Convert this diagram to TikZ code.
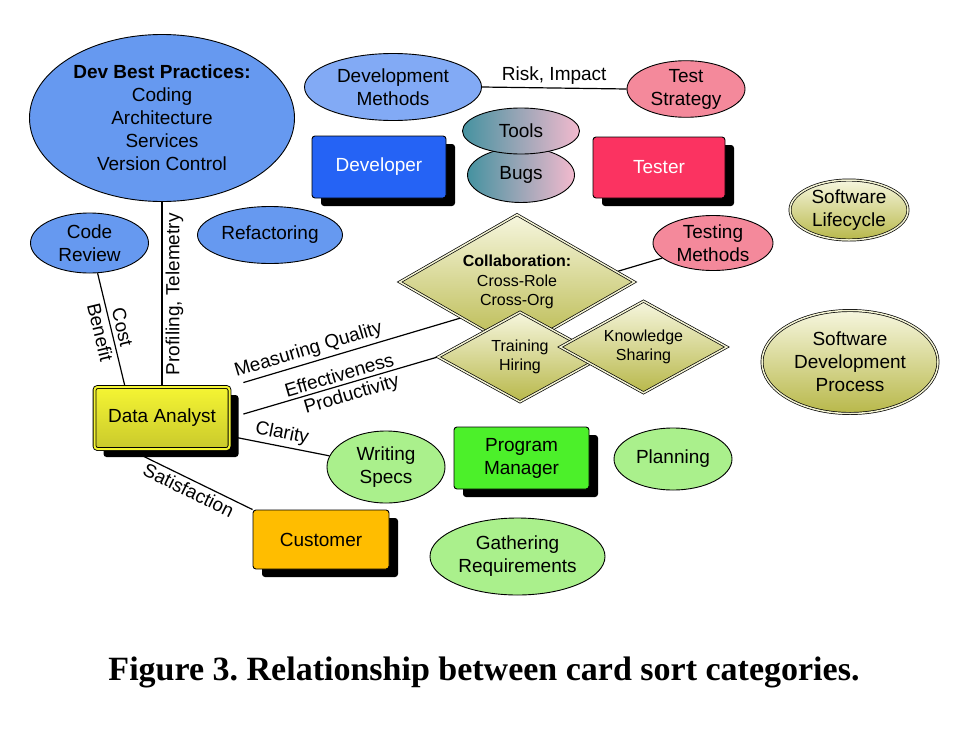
\documentclass[tikz,border=0pt]{standalone}
\usepackage{fontspec}
\setmainfont{Liberation Sans}
\newfontfamily\capfont{Liberation Serif}
\usepackage{tikz}
\usetikzlibrary{shapes.geometric,shadows}
\pgfdeclarelayer{bg}
\pgfsetlayers{bg,main}
\usepackage{xcolor}
\definecolor{bpblue}{HTML}{6699F0}
\definecolor{dmblue}{HTML}{82AAF5}
\definecolor{tspink}{HTML}{F4899B}
\definecolor{toolteal}{HTML}{4592A0}
\definecolor{toolpink}{HTML}{F3BACE}
\definecolor{devblue}{HTML}{2563F5}
\definecolor{tstred}{HTML}{FB3361}
\definecolor{pmgreen}{HTML}{4CF02A}
\definecolor{custorange}{HTML}{FFBD00}
\definecolor{lgreen}{HTML}{AAF08C}
\definecolor{olivetop}{HTML}{F6F6DE}
\definecolor{olivebot}{HTML}{B8B84A}
\definecolor{olivegap}{HTML}{F2F2D2}
\definecolor{datop}{HTML}{F5F533}
\definecolor{dabot}{HTML}{C9C92C}
\frenchspacing

\begin{document}
\begin{tikzpicture}[
  x=1pt, y=-1pt,
  font=\fontsize{19}{23}\selectfont,
  sz/.style 2 args={minimum width=#1pt, minimum height=#2pt},
  topic/.style={ellipse, draw, line width=0.9pt, align=center, inner sep=0pt},
  cycle/.style={topic, line width=0.7pt, double=olivegap, double distance=1.5pt,
    top color=olivetop, bottom color=olivebot},
  role/.style={draw, line width=0.9pt, rounded corners=3pt, align=center, inner sep=0pt,
    drop shadow={shadow xshift=9pt, shadow yshift=-8pt, fill=black, opacity=1}},
  theme/.style={diamond, draw, line width=0.7pt, double=olivegap, double distance=1.5pt,
    aspect=1.8, inner sep=0pt, align=center, top color=olivetop, bottom color=olivebot,
    font=\fontsize{16}{19.5}\selectfont},
  link/.style={line width=1.2pt},
  lbl/.style={inner sep=3pt}
]
\useasboundingbox (0,0) rectangle (979,731);

% developer / tester side
\node[topic, sz={265}{167}, fill=bpblue] (dbp) at (162,118)
  {\textbf{Dev Best Practices:}\\Coding\\Architecture\\Services\\Version Control};
\node[topic, sz={177}{67}, fill=dmblue] (dm) at (393,87) {Development\\Methods};
\node[topic, sz={118}{48}, fill=tspink] (ts) at (686,89) {Test\\Strategy};
\node[topic, sz={107}{55}, left color=toolteal, right color=toolpink] (bugs) at (521,175) {Bugs};
\node[topic, sz={117}{46}, left color=toolteal, right color=toolpink] (tools) at (521,131) {Tools};
\node[role, sz={134}{62}, fill=devblue, text=white] (dev) at (379,167) {Developer};
\node[role, sz={132}{61}, fill=tstred, text=white] (tst) at (659,167.5) {Tester};
\node[topic, sz={118}{60}, fill=bpblue] (cr) at (89.5,243) {Code\\Review};
\node[topic, sz={145}{57}, fill=bpblue] (ref) at (270,235) {Refactoring};
\node[topic, sz={120}{55}, fill=tspink] (tm) at (713,243) {Testing\\Methods};

% lifecycle
\node[cycle, sz={118}{60}] (sl) at (849,210) {Software\\Lifecycle};
\node[cycle, sz={176}{103}] (sdp) at (850,362) {Software\\Development\\Process};

% shared themes
\node[theme, sz={235}{135}] (collab) at (517,282)
  {\textbf{Collaboration:}\\Cross-Role\\Cross-Org};
\node[theme, sz={164}{90}] (train) at (520,357) {Training\\Hiring};
\node[theme, sz={167}{92}] (know) at (643.5,347) {Knowledge\\Sharing};

% analyst, pm, customer
\node[role, sz={135}{62}, double=datop, double distance=2pt, top color=datop, bottom color=dabot] (da) at (162,418) {Data Analyst};
\node[topic, sz={118}{72}, fill=lgreen] (ws) at (386,467) {Writing\\Specs};
\node[role, sz={135}{62}, fill=pmgreen] (pm) at (521.5,458) {Program\\Manager};
\node[topic, sz={118}{62}, fill=lgreen] (plan) at (673,459) {Planning};
\node[role, sz={136}{59}, fill=custorange] (cust) at (321,539.5) {Customer};
\node[topic, sz={175}{77}, fill=lgreen] (gr) at (517.5,556.5) {Gathering\\Requirements};

\node[font=\capfont\bfseries\fontsize{34}{40}\selectfont] (cap) at (484,672)
  {Figure 3. Relationship between card sort categories.};

\begin{pgfonlayer}{bg}
\draw[link] (dm.east) -- node[lbl, above] {Risk, Impact} (ts.west);
\draw[link] (da) -- node[lbl, pos=0.5, rotate=90, anchor=north] {Profiling, Telemetry} (dbp);
\draw[link] (cr.-75) -- node[lbl, sloped, align=center] {Cost\\Benefit} ([xshift=-37pt]da.north);
\draw[link, shorten <=14pt] (da.north east) -- node[lbl, pos=0.19, sloped, above] {Measuring Quality} (tm);
\draw[link, shorten <=14pt] (da.east) -- node[lbl, pos=0.54, sloped, above] {Effectiveness}
  node[lbl, pos=0.57, sloped, below] {Productivity} (train.west);
\draw[link] (da.-15) -- node[lbl, sloped, above] {Clarity} (ws);
\draw[link] (da.-136) -- node[lbl, pos=0.52, sloped, below] {Satisfaction} (cust.north west);
\end{pgfonlayer}
\end{tikzpicture}
\end{document}
